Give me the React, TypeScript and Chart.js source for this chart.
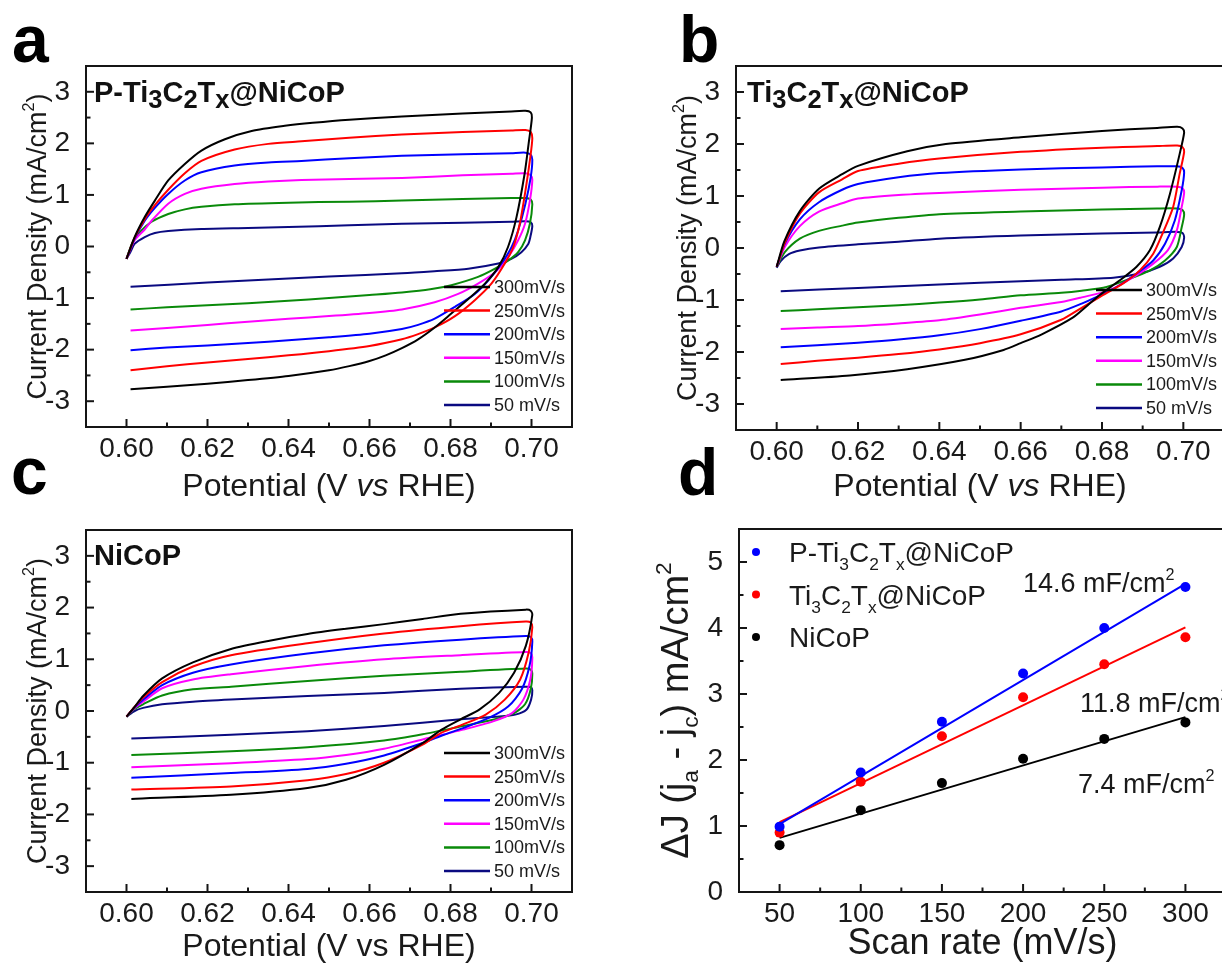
import React, { useEffect, useRef } from 'react';
import { Chart, registerables } from 'chart.js';

Chart.register(...registerables);

const FONT = "'Liberation Sans', Arial, Helvetica, sans-serif";
const INK = '#151515';

// ---------------- data ----------------
const scanLabels = ['300mV/s', '250mV/s', '200mV/s', '150mV/s', '100mV/s', '50 mV/s'];
const scanColors = ['#000000', '#ff0000', '#0000ff', '#ff00ff', '#0a8a0a', '#0a0a80'];

const cvXTicks = [0.6, 0.62, 0.64, 0.66, 0.68, 0.7];
const cvXTickLabels = ['0.60', '0.62', '0.64', '0.66', '0.68', '0.70'];
const cvYTicks = [-3, -2, -1, 0, 1, 2, 3];
const cvYTickLabels = ['-3', '-2', '-1', '0', '1', '2', '3'];

// Panel a : P-Ti3C2Tx@NiCoP  [potential V, current density mA/cm2]
const a300 = [[0.600,-0.24],[0.602,0.18],[0.6045,0.57],[0.607,0.89],[0.6103,1.28],[0.6144,1.60],[0.6185,1.86],[0.6243,2.08],[0.6309,2.24],[0.6391,2.34],[0.646,2.40],[0.655,2.46],[0.668,2.52],[0.683,2.58],[0.695,2.62],[0.6985,2.63],[0.6998,2.60],[0.7001,2.50],[0.6993,2.00],[0.6983,1.41],[0.6963,0.57],[0.6942,-0.01],[0.6918,-0.40],[0.6885,-0.72],[0.6844,-1.02],[0.6802,-1.30],[0.6761,-1.57],[0.672,-1.80],[0.668,-1.97],[0.664,-2.11],[0.66,-2.22],[0.655,-2.32],[0.65,-2.40],[0.64,-2.51],[0.63,-2.59],[0.62,-2.66],[0.61,-2.72],[0.601,-2.77]];
const a250 = [[0.600,-0.24],[0.602,0.17],[0.6045,0.53],[0.607,0.80],[0.6103,1.10],[0.6144,1.42],[0.6185,1.66],[0.6267,1.88],[0.635,1.99],[0.6432,2.04],[0.655,2.11],[0.668,2.17],[0.683,2.22],[0.695,2.25],[0.6985,2.26],[0.6998,2.22],[0.7002,2.10],[0.6997,1.73],[0.6985,1.08],[0.6971,0.44],[0.6955,-0.01],[0.6934,-0.33],[0.6901,-0.72],[0.686,-1.04],[0.6811,-1.35],[0.6761,-1.57],[0.672,-1.70],[0.668,-1.80],[0.66,-1.93],[0.65,-2.03],[0.64,-2.11],[0.63,-2.18],[0.62,-2.25],[0.61,-2.32],[0.601,-2.40]];
const a200 = [[0.600,-0.24],[0.602,0.15],[0.6045,0.50],[0.607,0.75],[0.6103,1.02],[0.6144,1.28],[0.6185,1.44],[0.6267,1.57],[0.635,1.63],[0.6432,1.66],[0.655,1.71],[0.668,1.76],[0.683,1.79],[0.695,1.81],[0.6985,1.82],[0.6998,1.78],[0.7002,1.68],[0.6998,1.34],[0.6985,0.83],[0.6967,0.31],[0.6951,-0.01],[0.6926,-0.33],[0.6893,-0.66],[0.686,-0.92],[0.6811,-1.17],[0.6761,-1.40],[0.672,-1.52],[0.668,-1.60],[0.66,-1.69],[0.65,-1.76],[0.64,-1.82],[0.63,-1.87],[0.62,-1.92],[0.61,-1.96],[0.601,-2.01]];
const a150 = [[0.600,-0.24],[0.602,0.12],[0.6045,0.33],[0.6062,0.50],[0.6103,0.83],[0.6144,1.02],[0.6185,1.12],[0.6267,1.21],[0.635,1.26],[0.6432,1.29],[0.655,1.31],[0.668,1.33],[0.683,1.38],[0.695,1.41],[0.6985,1.42],[0.6998,1.38],[0.7002,1.29],[0.6996,0.89],[0.6984,0.44],[0.6967,0.12],[0.6942,-0.21],[0.691,-0.50],[0.6868,-0.72],[0.6819,-0.92],[0.6761,-1.08],[0.668,-1.22],[0.66,-1.29],[0.65,-1.35],[0.64,-1.40],[0.63,-1.46],[0.62,-1.52],[0.61,-1.58],[0.601,-1.63]];
const a100 = [[0.600,-0.24],[0.6015,0.08],[0.6037,0.31],[0.6062,0.48],[0.6103,0.63],[0.6144,0.72],[0.6185,0.77],[0.6267,0.82],[0.64,0.85],[0.655,0.87],[0.668,0.89],[0.683,0.92],[0.695,0.94],[0.6985,0.94],[0.6998,0.91],[0.7002,0.82],[0.6996,0.44],[0.6984,0.12],[0.6967,-0.11],[0.6943,-0.27],[0.691,-0.43],[0.6868,-0.59],[0.6802,-0.75],[0.675,-0.83],[0.668,-0.89],[0.66,-0.94],[0.65,-1.00],[0.64,-1.05],[0.63,-1.10],[0.62,-1.14],[0.61,-1.18],[0.601,-1.22]];
const a50 = [[0.600,-0.24],[0.601,-0.10],[0.602,0.05],[0.6045,0.18],[0.607,0.26],[0.6103,0.30],[0.6185,0.34],[0.63,0.36],[0.64,0.38],[0.655,0.41],[0.668,0.44],[0.683,0.46],[0.695,0.48],[0.6985,0.49],[0.6998,0.47],[0.7002,0.40],[0.6997,0.18],[0.6992,0.05],[0.6975,-0.11],[0.695,-0.24],[0.6918,-0.33],[0.6844,-0.43],[0.676,-0.48],[0.668,-0.52],[0.65,-0.58],[0.64,-0.62],[0.62,-0.70],[0.601,-0.78]];

// Panel b : Ti3C2Tx@NiCoP
const b300 = [[0.600,-0.36],[0.6019,0.13],[0.6057,0.71],[0.6104,1.14],[0.6161,1.42],[0.62,1.58],[0.6321,1.86],[0.6416,2.00],[0.66,2.13],[0.68,2.25],[0.6936,2.31],[0.6985,2.33],[0.6998,2.30],[0.7002,2.22],[0.6991,1.81],[0.6967,1.04],[0.6942,0.40],[0.6918,-0.04],[0.6885,-0.36],[0.6844,-0.62],[0.6795,-0.90],[0.6765,-1.10],[0.6728,-1.34],[0.6652,-1.66],[0.66,-1.83],[0.6558,-1.96],[0.6463,-2.15],[0.6321,-2.33],[0.618,-2.45],[0.601,-2.54]];
const b250 = [[0.600,-0.36],[0.602,0.10],[0.6057,0.66],[0.6104,1.07],[0.6161,1.32],[0.62,1.48],[0.63,1.62],[0.64,1.72],[0.66,1.85],[0.68,1.93],[0.6936,1.96],[0.6985,1.97],[0.6998,1.94],[0.7002,1.85],[0.6991,1.43],[0.6975,0.79],[0.6949,0.28],[0.6926,-0.11],[0.6893,-0.43],[0.6852,-0.68],[0.6795,-0.94],[0.675,-1.15],[0.67,-1.38],[0.66,-1.66],[0.65,-1.83],[0.64,-1.95],[0.63,-2.04],[0.62,-2.11],[0.61,-2.17],[0.601,-2.23]];
const b200 = [[0.600,-0.36],[0.602,0.08],[0.6057,0.55],[0.6104,0.88],[0.6161,1.12],[0.62,1.23],[0.63,1.36],[0.64,1.44],[0.66,1.51],[0.68,1.55],[0.6936,1.57],[0.6985,1.57],[0.6998,1.54],[0.7002,1.45],[0.6996,1.11],[0.6979,0.53],[0.6955,0.08],[0.6926,-0.24],[0.6885,-0.49],[0.6836,-0.75],[0.6787,-0.94],[0.675,-1.07],[0.67,-1.22],[0.66,-1.40],[0.65,-1.56],[0.64,-1.68],[0.63,-1.76],[0.62,-1.82],[0.61,-1.87],[0.601,-1.91]];
const b150 = [[0.600,-0.36],[0.602,0.02],[0.6057,0.42],[0.6104,0.70],[0.6161,0.86],[0.62,0.95],[0.63,1.02],[0.64,1.06],[0.66,1.12],[0.68,1.16],[0.6936,1.18],[0.6985,1.18],[0.6998,1.15],[0.7002,1.07],[0.6996,0.79],[0.6984,0.34],[0.6962,-0.04],[0.6926,-0.30],[0.6877,-0.56],[0.6819,-0.81],[0.675,-0.95],[0.67,-1.04],[0.66,-1.15],[0.65,-1.28],[0.64,-1.39],[0.63,-1.45],[0.62,-1.50],[0.61,-1.53],[0.601,-1.56]];
const b100 = [[0.600,-0.36],[0.602,-0.08],[0.6057,0.18],[0.6104,0.33],[0.6161,0.43],[0.62,0.49],[0.63,0.58],[0.64,0.65],[0.66,0.70],[0.68,0.74],[0.6936,0.76],[0.6985,0.76],[0.6998,0.73],[0.7002,0.64],[0.6996,0.40],[0.6984,0.02],[0.6955,-0.24],[0.6918,-0.43],[0.6869,-0.59],[0.6811,-0.75],[0.675,-0.82],[0.67,-0.86],[0.66,-0.91],[0.65,-0.99],[0.64,-1.05],[0.63,-1.10],[0.62,-1.14],[0.61,-1.18],[0.601,-1.21]];
const b50 = [[0.600,-0.38],[0.601,-0.25],[0.603,-0.12],[0.6057,-0.05],[0.6104,0.01],[0.62,0.07],[0.63,0.12],[0.64,0.18],[0.66,0.24],[0.68,0.28],[0.6936,0.30],[0.6985,0.31],[0.6998,0.29],[0.7002,0.20],[0.6996,0.02],[0.6975,-0.20],[0.6942,-0.36],[0.6893,-0.49],[0.6828,-0.57],[0.67,-0.61],[0.66,-0.64],[0.64,-0.70],[0.62,-0.77],[0.601,-0.83]];

// Panel c : NiCoP
const c300 = [[0.600,-0.11],[0.602,0.08],[0.6041,0.29],[0.6088,0.63],[0.6164,0.94],[0.6258,1.20],[0.6353,1.36],[0.6447,1.49],[0.6542,1.59],[0.6636,1.68],[0.6731,1.78],[0.6825,1.88],[0.6986,1.96],[0.6998,1.94],[0.7002,1.86],[0.6986,1.26],[0.6957,0.74],[0.692,0.35],[0.6872,0.03],[0.6825,-0.16],[0.6778,-0.36],[0.6731,-0.62],[0.6636,-1.04],[0.6542,-1.33],[0.6447,-1.49],[0.6258,-1.62],[0.6012,-1.70]];
const c250 = [[0.600,-0.11],[0.602,0.08],[0.6041,0.26],[0.6088,0.56],[0.6164,0.86],[0.6258,1.08],[0.6447,1.31],[0.6636,1.50],[0.6825,1.64],[0.6986,1.73],[0.6998,1.71],[0.7002,1.62],[0.6993,1.13],[0.6972,0.61],[0.6934,0.22],[0.6887,-0.07],[0.6831,-0.26],[0.6778,-0.42],[0.6731,-0.65],[0.6636,-1.00],[0.6542,-1.22],[0.6447,-1.34],[0.6258,-1.46],[0.6012,-1.52]];
const c200 = [[0.600,-0.11],[0.602,0.07],[0.6041,0.22],[0.6088,0.50],[0.6164,0.74],[0.6258,0.90],[0.6447,1.11],[0.6636,1.27],[0.6825,1.38],[0.6986,1.45],[0.6998,1.43],[0.7002,1.34],[0.6995,0.87],[0.6976,0.42],[0.6943,0.09],[0.6896,-0.13],[0.6831,-0.33],[0.6784,-0.46],[0.6731,-0.62],[0.6636,-0.86],[0.6542,-1.02],[0.6447,-1.12],[0.6258,-1.20],[0.6012,-1.29]];
const c150 = [[0.600,-0.11],[0.602,0.06],[0.6041,0.18],[0.6088,0.44],[0.6164,0.61],[0.6258,0.71],[0.6447,0.87],[0.6636,1.00],[0.6825,1.08],[0.6986,1.14],[0.6998,1.12],[0.7002,1.04],[0.6997,0.61],[0.698,0.22],[0.6952,-0.04],[0.6905,-0.20],[0.6831,-0.36],[0.6731,-0.55],[0.6636,-0.73],[0.6542,-0.85],[0.6447,-0.93],[0.6258,-1.01],[0.6012,-1.09]];
const c100 = [[0.600,-0.11],[0.602,0.04],[0.6041,0.13],[0.6088,0.30],[0.6164,0.42],[0.6258,0.47],[0.6447,0.58],[0.6636,0.68],[0.6825,0.76],[0.6986,0.82],[0.6998,0.80],[0.7002,0.72],[0.6998,0.42],[0.6984,0.13],[0.6957,-0.04],[0.6905,-0.17],[0.6831,-0.29],[0.6731,-0.45],[0.6636,-0.57],[0.6447,-0.70],[0.6258,-0.78],[0.6012,-0.85]];
const c50 = [[0.600,-0.11],[0.602,0.00],[0.6041,0.06],[0.6088,0.13],[0.6164,0.18],[0.6258,0.22],[0.6447,0.29],[0.6636,0.35],[0.6825,0.43],[0.6986,0.47],[0.6998,0.46],[0.7002,0.40],[0.6999,0.22],[0.6988,0.03],[0.696,-0.07],[0.6912,-0.11],[0.6825,-0.16],[0.6636,-0.29],[0.6447,-0.39],[0.6258,-0.46],[0.6012,-0.53]];

// Panel d : capacitive current vs scan rate
const scanRates = [50, 100, 150, 200, 250, 300];
const dJ_PTi = [0.99, 1.81, 2.58, 3.31, 4.0, 4.62];
const dJ_Ti = [0.90, 1.67, 2.36, 2.95, 3.45, 3.86];
const dJ_NiCoP = [0.71, 1.24, 1.65, 2.02, 2.32, 2.57];
const fitX = [50, 300];
const fit_PTi = [1.03, 4.67];
const fit_Ti = [1.06, 4.01];
const fit_NiCoP = [0.82, 2.65];
const dColors = ['#0000ff', '#ff0000', '#000000'];
const capValues = ['14.6', '11.8', '7.4'];
const dXTicks = [50, 100, 150, 200, 250, 300];
const dXTickLabels = ['50', '100', '150', '200', '250', '300'];
const dYTicks = [0, 1, 2, 3, 4, 5];
const dYTickLabels = ['0', '1', '2', '3', '4', '5'];

// rich text: [text, style]
const nameA = [['P-Ti'], ['3', 'sub'], ['C'], ['2', 'sub'], ['T'], ['x', 'sub'], ['@NiCoP']];
const nameB = [['Ti'], ['3', 'sub'], ['C'], ['2', 'sub'], ['T'], ['x', 'sub'], ['@NiCoP']];
const nameC = [['NiCoP']];
const dSeriesNames = [nameA, nameB, nameC];
const cvYTitle = [['Current Density (mA/cm'], ['2', 'sup'], [')']];
const cvXTitleItalic = [['Potential (V '], ['vs', 'it'], [' RHE)']];
const cvXTitlePlain = [['Potential (V vs RHE)']];
const dXTitle = [['Scan rate (mV/s)']];
const dYTitle = [['\u0394J (j'], ['a', 'sub'], [' - j'], ['c', 'sub'], [') mA/cm'], ['2', 'sup']];

// ---------------- helpers ----------------
function fontFor(size, weight, style, sc) {
  const small = style === 'sub' || style === 'sup';
  const sz = small ? size * sc : size;
  return `${style === 'it' ? 'italic ' : ''}${weight} ${sz}px ${FONT}`;
}
function richWidth(ctx, segs, size, weight, sc) {
  let w = 0;
  for (const [t, s] of segs) {
    ctx.font = fontFor(size, weight, s, sc);
    w += ctx.measureText(t).width;
  }
  return w;
}
function drawRich(ctx, segs, x, y, o) {
  const { size, weight = 'normal', color = '#1a1a1a', align = 'left', sc = 0.62, subDy = 0.28, supDy = 0.42 } = o;
  ctx.fillStyle = color;
  ctx.textBaseline = 'alphabetic';
  ctx.textAlign = 'left';
  let cx = align === 'center' ? x - richWidth(ctx, segs, size, weight, sc) / 2 : x;
  for (const [t, s] of segs) {
    ctx.font = fontFor(size, weight, s, sc);
    const dy = s === 'sub' ? size * subDy : s === 'sup' ? -size * supDy : 0;
    ctx.fillText(t, cx, y + dy);
    cx += ctx.measureText(t).width;
  }
}
const mids = (arr) => arr.slice(1).map((v, i) => (v + arr[i]) / 2);

function makeDecor(cfg) {
  return {
    id: 'decor',
    afterDraw(chart) {
      const ctx = chart.ctx;
      const ca = chart.chartArea;
      const xs = chart.scales.x;
      const ys = chart.scales.y;
      const line = (x1, y1, x2, y2) => {
        ctx.beginPath();
        ctx.moveTo(x1, y1);
        ctx.lineTo(x2, y2);
        ctx.stroke();
      };
      ctx.save();
      ctx.strokeStyle = INK;
      ctx.lineWidth = 2;
      cfg.xMajor.forEach((v) => { const p = xs.getPixelForValue(v); line(p, ca.bottom, p, ca.bottom - 8); });
      mids(cfg.xMajor).forEach((v) => { const p = xs.getPixelForValue(v); line(p, ca.bottom, p, ca.bottom - 4.5); });
      cfg.yMajor.forEach((v) => { const p = ys.getPixelForValue(v); line(ca.left, p, ca.left + 8, p); });
      mids(cfg.yMajor).forEach((v) => { const p = ys.getPixelForValue(v); line(ca.left, p, ca.left + 4.5, p); });
      ctx.strokeRect(ca.left, ca.top, ca.right - ca.left, ca.bottom - ca.top);

      // panel letter
      ctx.fillStyle = '#000';
      ctx.font = `bold 66px ${FONT}`;
      ctx.textAlign = 'left';
      ctx.textBaseline = 'alphabetic';
      ctx.fillText(cfg.letter, cfg.letterX, cfg.letterY);

      // sample name
      if (cfg.sample) {
        drawRich(ctx, cfg.sample.segs, ca.left + cfg.sample.dx, ca.top + cfg.sample.dy, { size: 29, weight: 'bold', color: '#111', sc: 0.88, subDy: 0.2 });
      }

      // axis titles
      drawRich(ctx, cfg.xTitle.segs, (ca.left + ca.right) / 2, ca.bottom + cfg.xTitle.dy, { size: cfg.xTitle.size, align: 'center', sc: 0.6 });
      ctx.save();
      ctx.translate(ca.left - cfg.yTitle.dx, (ca.top + ca.bottom) / 2);
      ctx.rotate(-Math.PI / 2);
      drawRich(ctx, cfg.yTitle.segs, 0, cfg.yTitle.size * 0.36, { size: cfg.yTitle.size, align: 'center', sc: 0.6, subDy: 0.28, supDy: 0.45 });
      ctx.restore();

      // CV legend
      if (cfg.cvLegend) {
        const L = cfg.cvLegend;
        chart.data.datasets.forEach((ds, i) => {
          const y = ca.top + L.dy0 + i * L.step;
          ctx.strokeStyle = ds.borderColor;
          ctx.lineWidth = 2.5;
          line(ca.right - L.x1, y, ca.right - L.x2, y);
          ctx.fillStyle = '#1a1a1a';
          ctx.font = `18px ${FONT}`;
          ctx.textBaseline = 'middle';
          ctx.textAlign = 'left';
          ctx.fillText(ds.label, ca.right - L.xt, y + 1);
        });
      }

      // scatter legend
      if (cfg.dLegend) {
        const L = cfg.dLegend;
        L.names.forEach((segs, i) => {
          const ds = chart.data.datasets[i];
          const y = ca.top + L.dy0 + i * L.step;
          ctx.fillStyle = ds.backgroundColor;
          ctx.beginPath();
          ctx.arc(ca.left + L.dot, y, 4, 0, Math.PI * 2);
          ctx.fill();
          drawRich(ctx, segs, ca.left + L.xt, y + 10, { size: 28, sc: 0.62, subDy: 0.3 });
        });
      }

      // slope notes
      if (cfg.notes) {
        cfg.notes.forEach((n) => {
          drawRich(ctx, [[`${n.v} mF/cm`], ['2', 'sup']], ca.left + n.dx, ca.top + n.dy, { size: 27, sc: 0.6, supDy: 0.45 });
        });
      }
      ctx.restore();
    },
  };
}

function axisCommon(size, padding) {
  return {
    grid: { display: false },
    border: { display: false },
    ticks: { autoSkip: false, maxRotation: 0, minRotation: 0, padding, color: '#1a1a1a', font: { family: FONT, size } },
  };
}

function buildCV(canvas, p) {
  const datasets = p.curves.map((c, i) => ({
    label: scanLabels[i],
    data: c.map(([x, y]) => ({ x, y })),
    borderColor: scanColors[i],
    backgroundColor: scanColors[i],
    borderWidth: 2,
    pointRadius: 0,
    tension: 0.25,
    fill: false,
  }));
  const xc = axisCommon(28, -3);
  const yc = axisCommon(28, 8);
  return new Chart(canvas, {
    type: 'line',
    data: { datasets },
    options: {
      animation: false,
      responsive: false,
      devicePixelRatio: 1,
      events: [],
      layout: { padding: p.padding },
      plugins: { legend: { display: false }, tooltip: { enabled: false } },
      scales: {
        x: {
          type: 'linear', min: 0.59, max: 0.71, ...xc,
          ticks: { ...xc.ticks, callback: (_v, i) => cvXTickLabels[i] },
          afterBuildTicks: (s) => { s.ticks = cvXTicks.map((v) => ({ value: v })); },
          afterFit: (s) => { s.height = 60; },
        },
        y: {
          type: 'linear', min: -3.5, max: 3.5, ...yc,
          ticks: { ...yc.ticks, callback: (_v, i) => cvYTickLabels[i] },
          afterBuildTicks: (s) => { s.ticks = cvYTicks.map((v) => ({ value: v })); },
          afterFit: (s) => { s.width = p.yAxisW; },
        },
      },
    },
    plugins: [makeDecor({
      xMajor: cvXTicks, yMajor: cvYTicks,
      letter: p.letter, letterX: p.letterX, letterY: p.letterY,
      sample: { segs: p.name, dx: p.nameDx, dy: p.nameDy },
      xTitle: { segs: p.xTitle, dy: p.xTitleDy, size: 32 },
      yTitle: { segs: cvYTitle, dx: 50, size: 27 },
      cvLegend: { x1: 128, x2: 82, xt: 78, dy0: p.legendDy, step: 23.6 },
    })],
  });
}

function buildD(canvas) {
  const pts = [dJ_PTi, dJ_Ti, dJ_NiCoP].map((arr, i) => ({
    data: scanRates.map((x, k) => ({ x, y: arr[k] })),
    showLine: false,
    pointRadius: 5,
    pointBorderWidth: 0,
    pointBackgroundColor: dColors[i],
    backgroundColor: dColors[i],
    borderColor: dColors[i],
  }));
  const fits = [fit_PTi, fit_Ti, fit_NiCoP].map((arr, i) => ({
    data: fitX.map((x, k) => ({ x, y: arr[k] })),
    borderColor: dColors[i],
    borderWidth: 2,
    pointRadius: 0,
    fill: false,
  }));
  const xc = axisCommon(28, -3);
  const yc = axisCommon(28, 8);
  return new Chart(canvas, {
    type: 'line',
    data: { datasets: [...pts, ...fits] },
    options: {
      animation: false,
      responsive: false,
      devicePixelRatio: 1,
      events: [],
      layout: { padding: { left: 0, top: 89, right: 14, bottom: 21 } },
      plugins: { legend: { display: false }, tooltip: { enabled: false } },
      scales: {
        x: {
          type: 'linear', min: 25, max: 325, ...xc,
          ticks: { ...xc.ticks, callback: (_v, i) => dXTickLabels[i] },
          afterBuildTicks: (s) => { s.ticks = dXTicks.map((v) => ({ value: v })); },
          afterFit: (s) => { s.height = 60; },
        },
        y: {
          type: 'linear', min: 0, max: 5.5, ...yc,
          ticks: { ...yc.ticks, callback: (_v, i) => dYTickLabels[i] },
          afterBuildTicks: (s) => { s.ticks = dYTicks.map((v) => ({ value: v })); },
          afterFit: (s) => { s.width = 119; },
        },
      },
    },
    plugins: [makeDecor({
      xMajor: dXTicks, yMajor: dYTicks,
      letter: 'd', letterX: 58, letterY: 55,
      xTitle: { segs: dXTitle, dy: 62, size: 36 },
      yTitle: { segs: dYTitle, dx: 65, size: 38 },
      dLegend: { names: dSeriesNames, dot: 17, xt: 50, dy0: 23, step: 42.5 },
      notes: [
        { v: capValues[0], dx: 284, dy: 63 },
        { v: capValues[1], dx: 341, dy: 183 },
        { v: capValues[2], dx: 339, dy: 264 },
      ],
    })],
  });
}

const panelA = {
  curves: [a300, a250, a200, a150, a100, a50], name: nameA, nameDx: 8, nameDy: 36,
  letter: 'a', letterX: 12, letterY: 62, xTitle: cvXTitleItalic, xTitleDy: 69, legendDy: 221,
  padding: { left: 0, top: 66, right: 48, bottom: 33 }, yAxisW: 86,
};
const panelB = {
  curves: [b300, b250, b200, b150, b100, b50], name: nameB, nameDx: 11, nameDy: 36,
  letter: 'b', letterX: 59, letterY: 62, xTitle: cvXTitleItalic, xTitleDy: 66, legendDy: 224,
  padding: { left: 0, top: 66, right: 16, bottom: 30 }, yAxisW: 116,
};
const panelC = {
  curves: [c300, c250, c200, c150, c100, c50], name: nameC, nameDx: 8, nameDy: 35,
  letter: 'c', letterX: 11, letterY: 54, xTitle: cvXTitlePlain, xTitleDy: 64, legendDy: 223,
  padding: { left: 0, top: 90, right: 48, bottom: 21 }, yAxisW: 86,
};

function ChartCanvas({ x, y, w, h, make }) {
  const ref = useRef(null);
  useEffect(() => {
    const chart = make(ref.current);
    return () => chart.destroy();
  }, []);
  return (
    <canvas ref={ref} width={w} height={h} style={{ position: 'absolute', left: x, top: y, width: w, height: h }} />
  );
}

export default function App() {
  return (
    <div style={{ position: 'absolute', left: 0, top: 0, width: 1222, height: 973, overflow: 'hidden', background: '#ffffff' }}>
      <ChartCanvas x={0} y={0} w={620} h={520} make={(c) => buildCV(c, panelA)} />
      <ChartCanvas x={620} y={0} w={620} h={520} make={(c) => buildCV(c, panelB)} />
      <ChartCanvas x={0} y={440} w={620} h={533} make={(c) => buildCV(c, panelC)} />
      <ChartCanvas x={620} y={440} w={620} h={533} make={(c) => buildD(c)} />
    </div>
  );
}
